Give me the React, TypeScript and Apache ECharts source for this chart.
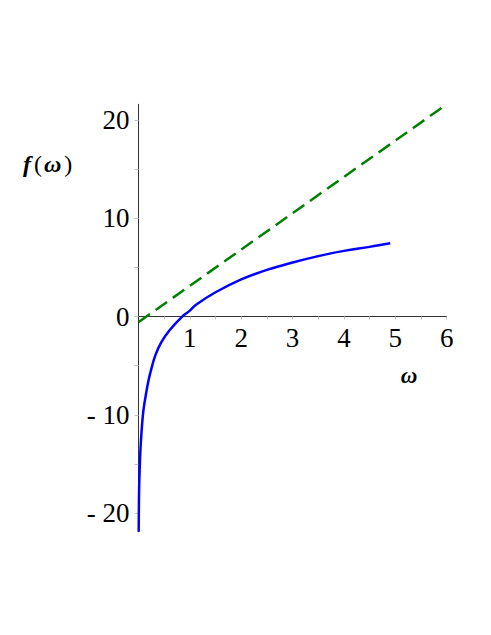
import React, { useEffect, useRef } from "react";
import * as echarts from "echarts";

// Blue curve f(ω)
const blueX = [0.004, 0.012, 0.029, 0.045, 0.068, 0.097, 0.152, 0.198, 0.237, 0.327, 0.44, 0.605, 0.85, 1, 1.12, 1.5, 2, 2.5, 3, 3.5, 4, 4.5, 4.9];
const blueY = [-21.9, -17.6, -14.6, -12.9, -11.1, -9.5, -7.7, -6.44, -5.59, -3.95, -2.65, -1.4, 0, 0.6, 1.2, 2.47, 3.78, 4.75, 5.5, 6.15, 6.68, 7.09, 7.45];
// Green dashed line (asymptote)
const greenX = [0, 6];
const greenY = [-0.57, 21.6];
// Axis ticks and labels
const xTicks = [0.5, 1, 1.5, 2, 2.5, 3, 3.5, 4, 4.5, 5, 5.5, 6];
const xLabels = [1, 2, 3, 4, 5, 6];
const yTicks = [-20, -15, -10, -5, 0, 5, 10, 15, 20];
const yLabels = [-20, -10, 0, 10, 20];
const xRange = [0, 6];
const yRange = [-21.9, 21.6];

const SERIF = "'Liberation Serif', 'DejaVu Serif', serif";
const GRID = { left: 138.5, right: 44.3, top: 104.3, bottom: 103.3 };
const H = 635;
const W = 491;

export default function App() {
  const ref = useRef<HTMLDivElement>(null);
  useEffect(() => {
    if (!ref.current) return;
    const chart = echarts.init(ref.current, undefined, { renderer: "svg" });
    const gridH = H - GRID.top - GRID.bottom;
    // distance from the grid bottom up to y = 0, so the x axis sits on zero
    const zeroOffset = ((0 - yRange[0]) / (yRange[1] - yRange[0])) * gridH;
    chart.setOption({
      animation: false,
      backgroundColor: "#ffffff",
      grid: { ...GRID, containLabel: false },
      xAxis: {
        type: "value",
        min: xRange[0],
        max: xRange[1],
        position: "bottom",
        offset: -zeroOffset,
        splitLine: { show: false },
        axisLine: { onZero: false, lineStyle: { color: "#333333", width: 1 } },
        axisTick: { show: true, customValues: xTicks, length: 3, lineStyle: { color: "#c4c4c4" } },
        axisLabel: {
          customValues: xLabels,
          margin: 8,
          fontFamily: SERIF,
          fontSize: 27,
          color: "#000000",
        },
      },
      yAxis: {
        type: "value",
        min: yRange[0],
        max: yRange[1],
        splitLine: { show: false },
        axisLine: { show: true, onZero: false, lineStyle: { color: "#333333", width: 1 } },
        axisTick: { show: true, customValues: yTicks, length: 4, lineStyle: { color: "#c4c4c4" } },
        axisLabel: {
          customValues: yLabels,
          margin: 9,
          fontFamily: SERIF,
          fontSize: 27,
          color: "#000000",
          formatter: (v: number) => (v < 0 ? "- " + Math.abs(v) : String(v)),
        },
      },
      series: [
        {
          type: "line",
          data: greenX.map((x, i) => [x, greenY[i]]),
          showSymbol: false,
          lineStyle: { color: "#008000", width: 2.5, type: [14, 7] },
        },
        {
          type: "line",
          data: blueX.map((x, i) => [x, blueY[i]]),
          showSymbol: false,
          smooth: 0.4,
          lineStyle: { color: "#0000ff", width: 2.5 },
        },
      ],
      graphic: [
        {
          type: "text",
          left: 23,
          top: 152,
          style: {
            text: "{i|f}{n|(}{i|ω}{n|)}",
            rich: {
              i: { fontFamily: SERIF, fontSize: 24, fontWeight: "bold", fontStyle: "italic", fill: "#000" },
              n: { fontFamily: SERIF, fontSize: 24, fill: "#000", padding: [0, 2, 0, 3] },
            },
          },
        },
        {
          type: "text",
          x: 409,
          y: 375,
          style: {
            text: "ω",
            fontFamily: SERIF,
            fontSize: 23,
            fontWeight: "bold",
            fontStyle: "italic",
            fill: "#000",
            align: "center",
            verticalAlign: "middle",
          },
        },
      ],
    });
    return () => chart.dispose();
  }, []);
  return (
    <div
      ref={ref}
      style={{ position: "fixed", left: 0, top: 0, width: W, height: H, background: "#fff" }}
    />
  );
}
